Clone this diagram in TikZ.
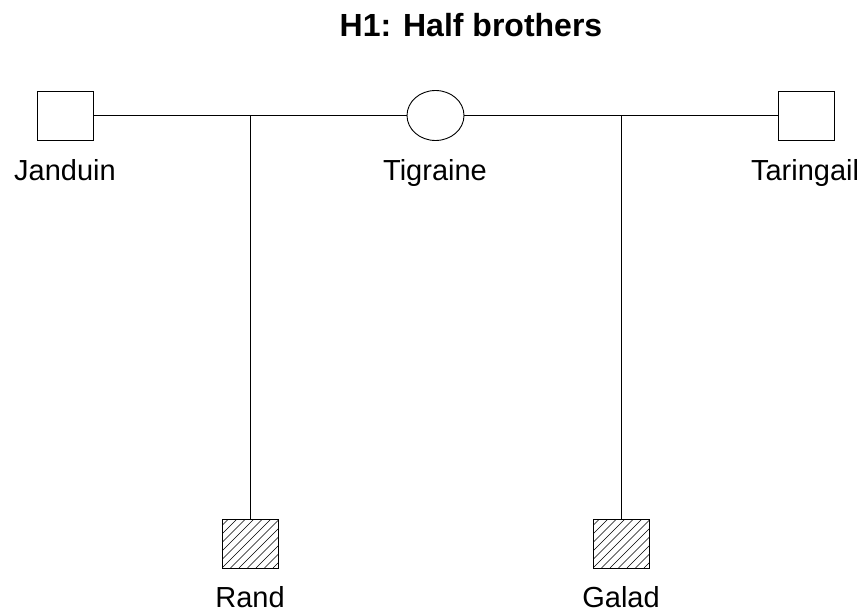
\documentclass[tikz,border=0pt]{standalone}
\usepackage{fontspec}
\setmainfont{Liberation Sans}
\usetikzlibrary{shapes.geometric}
\begin{document}
\begin{tikzpicture}[x=1pt,y=-1pt,
  male/.style={draw, rectangle, minimum width=56pt, minimum height=49pt, inner sep=0pt, line width=0.9pt},
  female/.style={draw, ellipse, minimum width=57pt, minimum height=50pt, inner sep=0pt, line width=0.9pt},
  hatched/.style={male, path picture={
      \foreach \i in {-68,-59.5,...,68}
        \draw[line width=0.6pt] ([xshift=\i pt]path picture bounding box.south west) -- ++(64pt,64pt);}},
  lbl/.style={anchor=base, inner sep=0pt, font=\fontsize{29}{32}\selectfont},
  conn/.style={line width=0.9pt}]
\useasboundingbox (0,0) rectangle (866,612);
\node[anchor=base, inner sep=0pt, font=\bfseries\fontsize{32}{36}\selectfont] (title) at (471,37) {H1: Half brothers};
\node[male] (jan) at (65,115.5) {};
\node[female] (tig) at (435.5,115.5) {};
\node[male] (tar) at (806,115.5) {};
\node[hatched] (rand) at (250,543.5) {};
\node[hatched] (galad) at (621,543.5) {};
\node[lbl] (janl) at (65,181) {Janduin};
\node[lbl] (tigl) at (435,181) {Tigraine};
\node[lbl] (tarl) at (805,181) {Taringail};
\node[lbl] (randl) at (250,607) {Rand};
\node[lbl] (galadl) at (621,607) {Galad};
\coordinate (m1) at (250,115.5);
\coordinate (m2) at (621,115.5);
\draw[conn] (jan.east) -- (tig.west);
\draw[conn] (tig.east) -- (tar.west);
\draw[conn] (m1) -- (rand.north);
\draw[conn] (m2) -- (galad.north);
\end{tikzpicture}
\end{document}
